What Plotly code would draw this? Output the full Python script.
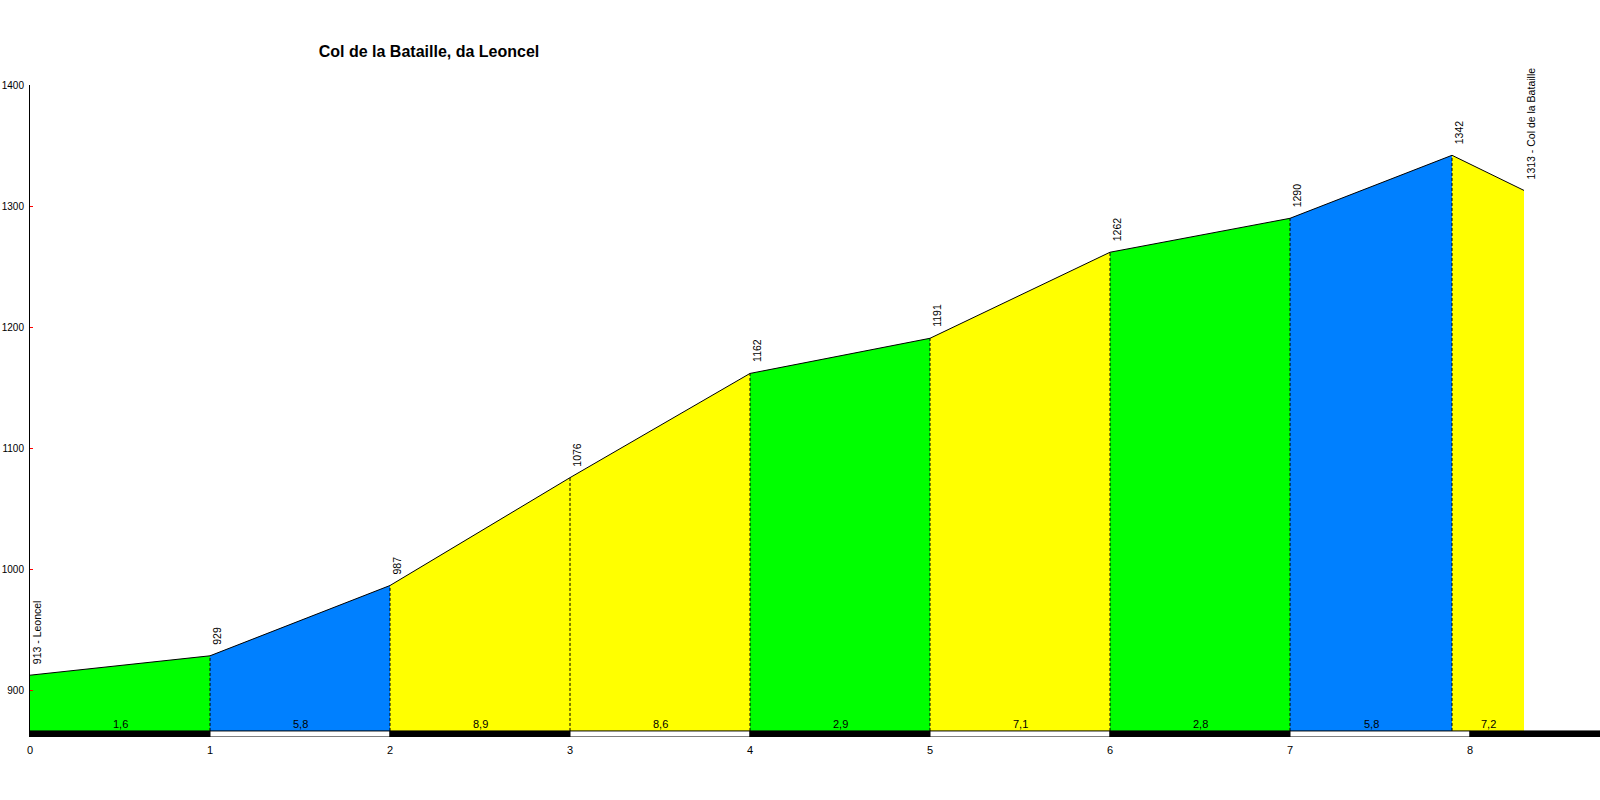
import plotly.graph_objects as go

# ---- data ----
km = [0, 1, 2, 3, 4, 5, 6, 7, 7.9, 8.3]
elev = [913, 929, 987, 1076, 1162, 1191, 1262, 1290, 1342, 1313]
point_labels = ["913 - Leoncel", "929", "987", "1076", "1162", "1191", "1262", "1290", "1342",
                "1313 - Col de la Bataille"]
grad_labels = ["1,6", "5,8", "8,9", "8,6", "2,9", "7,1", "2,8", "5,8", "7,2"]
seg_colors = ["#00FF00", "#0080FF", "#FFFF00", "#FFFF00", "#00FF00", "#FFFF00", "#00FF00", "#0080FF", "#FFFF00"]
km_ticks = [0, 1, 2, 3, 4, 5, 6, 7, 8]
y_ticks = [900, 1000, 1100, 1200, 1300, 1400]
title = "Col de la Bataille, da Leoncel"

BASE = 867.0
BAR_BOTTOM = 862.0
FIG_W, FIG_H = 1600, 800
M_L, M_R, M_T, M_B = 30, 0, 85, 63
X_MAX = (FIG_W - M_L - M_R) / 180.0
FONT = "Liberation Sans, Arial, sans-serif"

fig = go.Figure()

# colored segments
for i in range(len(km) - 1):
    x0, x1 = km[i], km[i + 1]
    y0, y1 = elev[i], elev[i + 1]
    fig.add_trace(go.Scatter(
        x=[x0, x0, x1, x1, x0], y=[BASE, y0, y1, BASE, BASE],
        fill="toself", fillcolor=seg_colors[i], mode="lines",
        line=dict(width=0, color=seg_colors[i]), hoverinfo="skip", showlegend=False))

# dashed verticals at interior boundaries
for i in range(1, len(km) - 1):
    fig.add_trace(go.Scatter(
        x=[km[i], km[i]], y=[BASE, elev[i]], mode="lines",
        line=dict(color="black", width=1, dash="3px,2px"), hoverinfo="skip", showlegend=False))

# profile outline
fig.add_trace(go.Scatter(x=km, y=elev, mode="lines", line=dict(color="black", width=1),
                         hoverinfo="skip", showlegend=False))

# km bar
shapes = []
for i in range(len(km_ticks)):
    x0 = km_ticks[i]
    x1 = km_ticks[i + 1] if i + 1 < len(km_ticks) else X_MAX
    fill = "black" if i % 2 == 0 else "white"
    shapes.append(dict(type="rect", xref="x", yref="y", x0=x0, x1=x1, y0=BAR_BOTTOM, y1=BASE,
                       fillcolor=fill, line=dict(color="black", width=1), layer="above"))

annotations = []
for x, y, t in zip(km, elev, point_labels):
    annotations.append(dict(x=x, y=y, text=t, textangle=-90, showarrow=False,
                            xanchor="center", yanchor="bottom", xshift=7, yshift=9,
                            font=dict(family=FONT, size=10.5, color="black")))
for i, g in enumerate(grad_labels):
    annotations.append(dict(x=(km[i] + km[i + 1]) / 2, y=BASE, text=g, showarrow=False,
                            xanchor="center", yanchor="bottom", yshift=-1,
                            font=dict(family=FONT, size=11, color="black")))

fig.update_layout(
    width=FIG_W, height=FIG_H,
    margin=dict(l=M_L, r=M_R, t=M_T, b=M_B, autoexpand=False),
    paper_bgcolor="white", plot_bgcolor="white",
    title=dict(text="<b>" + title + "</b>", x=429 / FIG_W, xref="container", xanchor="center",
               y=1 - 51 / FIG_H, yref="container", yanchor="middle",
               font=dict(family=FONT, size=16, color="black")),
    shapes=shapes, annotations=annotations,
    xaxis=dict(range=[0, X_MAX], tickvals=km_ticks, ticktext=[str(k) for k in km_ticks],
               showgrid=False, zeroline=False, showline=False, ticks="outside", ticklen=3,
               tickcolor="rgba(0,0,0,0)", automargin=False,
               tickfont=dict(family=FONT, size=11, color="black")),
    yaxis=dict(range=[BAR_BOTTOM, 1400], tickvals=y_ticks, showgrid=False, zeroline=False,
               showline=True, linecolor="black", linewidth=1, ticks="inside", ticklen=3,
               tickcolor="red", automargin=False, ticklabelstandoff=3,
               tickfont=dict(family=FONT, size=10, color="black")),
)

fig.write_html("out.html", config={"displayModeBar": False},
               post_script="document.body.style.margin='0';document.body.style.overflow='hidden';")
